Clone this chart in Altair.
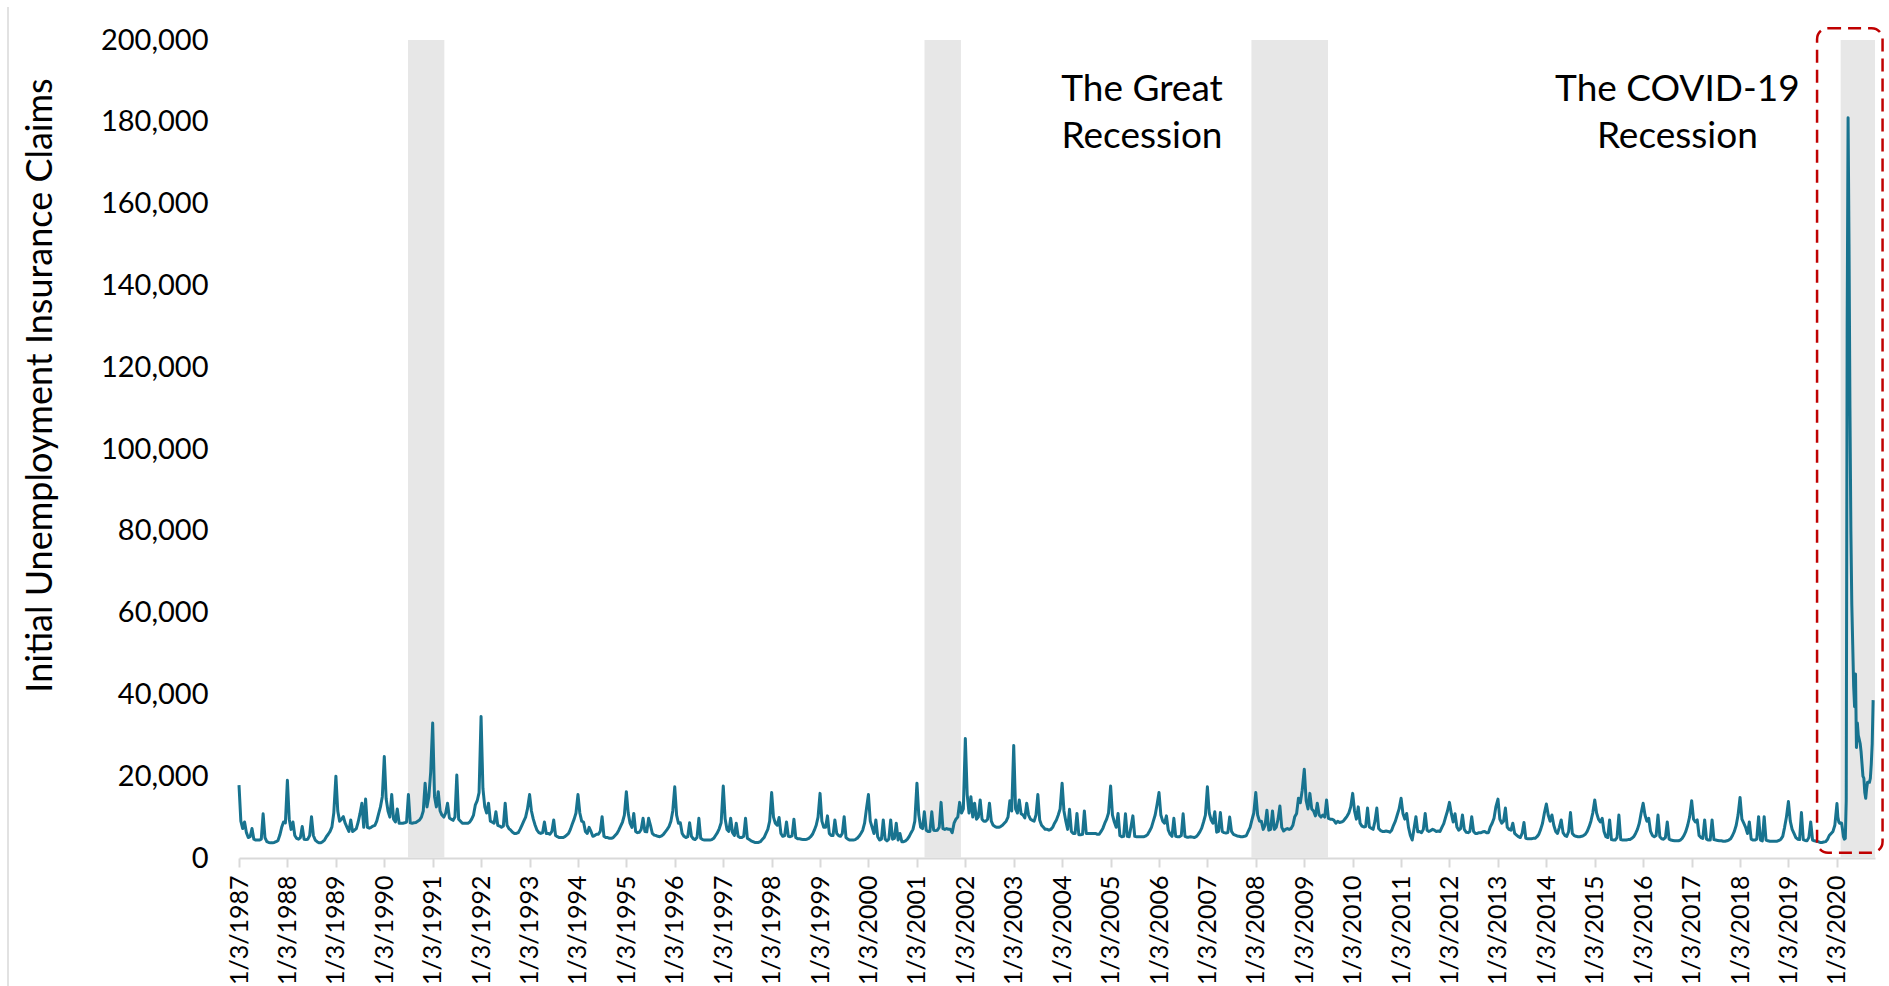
import altair as alt
import pandas as pd

# Initial unemployment insurance claims, read every two weeks from Jan 3 of each year
claims_1987 = [17800, 9000, 7200, 8800, 6200, 5000, 5200, 7200, 4600, 4400, 4400, 4400, 4600, 10800, 5000, 4000, 3800, 3700, 3700, 3800, 4000, 4300, 5600, 7500, 8800, 8600]
claims_1988 = [19000, 9500, 7000, 8800, 5500, 4800, 4600, 5000, 7700, 4600, 4500, 4600, 5500, 10100, 5500, 4400, 4000, 3700, 3700, 4000, 4400, 5200, 5800, 6500, 7600, 11000]
claims_1989 = [20000, 11500, 9000, 9500, 10100, 8500, 7500, 6500, 9300, 6500, 6800, 7200, 8800, 10900, 13400, 7500, 14400, 7500, 7300, 7500, 7800, 8000, 9000, 10800, 12500, 15000]
claims_1990 = [24800, 14500, 11500, 10000, 15500, 9500, 8800, 12000, 8500, 8500, 8500, 8600, 8800, 15500, 8600, 8500, 8600, 8700, 9000, 9300, 10000, 11500, 18300, 12500, 15000, 21000]
claims_1991 = [33000, 15000, 12500, 16200, 11500, 10500, 10000, 11000, 13400, 9800, 9500, 9200, 10000, 20300, 9500, 9000, 8500, 8500, 8500, 8500, 8800, 9500, 10500, 13000, 14000, 16000]
claims_1992 = [34600, 17000, 12500, 11000, 13400, 9000, 8800, 8500, 11300, 8000, 7800, 7500, 7800, 13400, 8000, 7200, 6800, 6300, 6000, 6000, 6200, 7000, 8000, 9000, 10000, 12000]
claims_1993 = [15500, 11500, 9500, 8000, 6800, 6200, 6000, 6200, 8800, 6000, 6000, 5800, 6500, 9300, 5500, 5200, 5000, 5000, 5000, 5200, 5600, 6000, 7000, 8300, 9500, 11000]
claims_1994 = [15500, 11000, 9000, 8800, 6500, 6000, 7500, 6500, 5300, 5500, 5800, 5800, 6500, 10100, 5300, 5000, 5000, 4800, 4800, 5000, 5500, 6000, 6800, 7800, 8800, 10500]
claims_1995 = [16200, 11000, 8500, 7500, 10900, 6500, 6200, 6300, 7000, 9700, 6500, 6400, 9700, 8000, 6000, 5600, 5500, 5300, 5200, 5400, 5800, 6400, 7000, 7700, 9000, 11500]
claims_1996 = [17400, 10500, 8500, 8600, 6000, 5300, 5000, 5200, 8600, 5300, 4700, 4500, 5000, 9700, 4800, 4500, 4400, 4400, 4400, 4400, 4500, 4800, 5500, 6200, 7200, 8600]
claims_1997 = [17600, 9600, 7000, 6500, 9700, 6200, 5500, 8500, 5300, 5000, 5000, 5300, 9700, 4800, 4500, 4200, 4000, 3800, 3800, 3800, 4000, 4500, 5000, 6000, 7000, 9000]
claims_1998 = [16000, 10000, 8500, 8000, 9900, 6000, 5300, 5500, 8800, 5300, 5200, 5400, 9500, 5000, 4700, 4700, 4600, 4500, 4500, 4600, 4800, 5200, 5800, 6800, 8000, 10000]
claims_1999 = [15800, 9000, 7500, 7500, 10300, 6000, 5500, 5500, 9300, 6000, 5500, 5300, 6000, 10100, 5000, 4600, 4400, 4400, 4400, 4500, 4800, 5300, 6000, 6800, 8500, 12000]
claims_2000 = [15500, 9000, 7500, 6000, 9300, 5200, 4400, 4600, 9300, 4600, 4200, 4600, 9300, 4600, 4800, 8500, 4400, 6000, 4000, 4000, 4200, 4600, 5300, 6200, 7000, 9000]
claims_2001 = [18300, 10500, 7500, 7200, 11300, 6800, 6500, 6500, 11300, 6800, 6700, 6800, 7500, 13600, 7200, 7000, 7200, 7000, 7000, 6200, 8500, 9500, 10000, 13600, 11000, 12000]
claims_2002 = [29200, 15500, 11000, 15000, 10000, 13400, 9500, 10000, 14200, 9500, 9000, 9000, 9500, 13400, 9000, 8000, 7700, 7500, 7500, 7700, 8000, 8500, 9000, 10000, 14000, 11500]
claims_2003 = [27500, 12000, 11000, 14200, 10800, 10500, 9800, 13400, 10500, 9500, 9200, 9000, 10500, 15500, 9300, 8000, 7500, 7000, 7000, 6800, 7000, 7500, 8500, 9300, 10500, 12000]
claims_2004 = [18300, 11500, 9000, 7000, 11900, 6500, 6000, 6000, 10900, 5700, 5700, 5800, 11500, 6000, 6000, 6000, 6000, 6000, 6000, 5800, 5800, 6500, 7300, 8500, 9500, 11000]
claims_2005 = [17600, 10500, 8800, 7500, 10900, 5500, 5200, 5300, 10800, 5300, 5200, 7700, 10300, 5300, 5200, 5200, 5200, 5200, 5200, 5400, 5800, 6600, 7500, 9000, 10500, 13000]
claims_2006 = [16000, 10500, 9000, 8500, 10300, 6800, 5800, 5300, 9700, 5300, 5200, 5200, 5500, 10800, 5300, 5100, 5100, 5200, 5100, 5000, 5200, 5700, 6400, 7300, 8800, 10500]
claims_2007 = [17400, 11000, 9300, 8500, 11300, 6300, 6500, 11100, 6500, 6200, 6100, 6200, 10000, 6500, 5800, 5600, 5400, 5300, 5200, 5200, 5300, 5500, 6500, 7500, 9300, 11000]
claims_2008 = [16000, 10500, 9000, 9000, 7000, 8000, 11700, 6800, 7000, 11500, 7000, 7500, 9500, 12700, 7500, 6600, 7000, 7200, 7000, 7200, 8000, 10100, 10900, 14600, 13500, 16500]
claims_2009 = [21700, 14000, 12000, 15800, 12000, 11500, 10300, 13400, 10500, 10000, 10500, 10000, 14200, 9700, 9500, 9500, 9200, 8500, 9000, 8700, 8800, 9000, 9600, 10200, 11000, 12500]
claims_2010 = [15800, 11500, 9500, 12500, 8500, 7800, 7600, 7700, 12200, 7600, 7300, 7000, 9000, 12200, 7200, 6700, 6500, 6500, 6600, 6500, 6300, 6800, 8000, 9000, 10500, 12000]
claims_2011 = [14600, 10900, 9500, 10900, 7500, 5500, 4400, 7200, 10100, 6400, 6500, 6200, 7000, 10900, 6800, 6500, 6700, 7000, 6800, 6500, 6600, 6500, 7500, 8400, 10000, 11500]
claims_2012 = [13600, 10900, 8800, 10800, 7600, 6800, 7200, 10500, 7000, 6300, 6200, 6500, 10100, 6500, 6000, 6000, 6200, 6200, 6400, 6500, 6200, 6200, 7600, 8500, 9700, 12500]
claims_2013 = [14400, 9500, 8500, 9000, 12200, 7500, 7000, 6800, 8500, 6000, 5600, 5200, 5000, 6000, 8700, 4800, 4700, 4700, 4700, 4800, 4800, 5200, 5800, 7000, 8500, 11000]
claims_2014 = [13200, 10500, 9000, 10500, 8000, 6500, 6000, 7500, 9300, 6200, 5500, 5300, 6500, 11100, 6000, 5500, 5300, 5200, 5200, 5300, 5500, 5800, 6500, 7600, 9000, 11000]
claims_2015 = [14200, 11000, 9500, 8800, 9700, 6500, 5200, 5000, 9300, 4500, 4400, 4400, 5000, 10500, 4500, 4400, 4400, 4400, 4500, 4500, 4800, 5200, 6000, 7000, 8500, 11000]
claims_2016 = [13400, 10500, 9000, 9700, 6500, 5500, 5200, 5500, 10500, 5200, 4700, 4600, 5000, 8800, 4600, 4400, 4300, 4200, 4200, 4200, 4400, 4800, 5500, 6500, 8000, 10000]
claims_2017 = [14000, 9500, 8800, 9300, 5500, 5000, 4800, 9300, 4600, 4400, 4400, 9300, 4500, 4400, 4300, 4200, 4200, 4100, 4100, 4200, 4400, 4700, 5500, 6500, 8000, 10500]
claims_2018 = [14800, 9500, 8500, 7500, 6000, 8800, 4600, 4400, 4400, 4600, 10100, 4400, 4200, 10100, 4400, 4200, 4100, 4100, 4100, 4100, 4100, 4300, 4600, 5300, 7500, 10000]
claims_2019 = [13800, 9000, 7000, 6000, 5000, 4600, 4500, 11100, 4500, 4300, 4200, 5000, 8800, 4400, 4200, 4100, 4000, 3800, 3800, 3900, 4000, 4500, 5500, 6000, 6500, 8000]

# 2020 is weekly, week ending Jan 4 through week ending Oct 3
claims_2020 = [13300, 10000, 8800, 8500, 8600, 8500, 7000, 5200, 4600, 4800,
               14000, 130000, 181000, 150000, 110000, 80000, 62000, 52000, 42000, 37000,
               45000, 27000, 33000, 30000, 29000, 28000, 26000, 23000, 20000, 19500,
               16000, 14600, 17000, 18500, 18500, 18500, 19500, 23000, 28000, 38600]

# Recessions shaded in grey
recession_start = ["1990-07-01", "2001-03-01", "2007-12-01", "2020-02-01"]
recession_end = ["1991-04-01", "2001-12-01", "2009-07-01", "2020-10-17"]

# Annotations
note_text = ["The Great\nRecession", "The COVID-19\nRecession"]
note_date = ["2005-08-28", "2016-09-17"]
note_level = [185000, 185000]

# Highlight box around the 2020 surge
box_start = ["2019-08-07"]
box_end = ["2020-12-13"]
box_low = [1300]
box_high = [202900]

y_ticks = list(range(0, 200001, 20000))
tick_years = list(range(1987, 2021))

FONT = "Lato"
LINE_COLOR = "#18738F"

biweekly = {
    1987: claims_1987, 1988: claims_1988, 1989: claims_1989, 1990: claims_1990,
    1991: claims_1991, 1992: claims_1992, 1993: claims_1993, 1994: claims_1994,
    1995: claims_1995, 1996: claims_1996, 1997: claims_1997, 1998: claims_1998,
    1999: claims_1999, 2000: claims_2000, 2001: claims_2001, 2002: claims_2002,
    2003: claims_2003, 2004: claims_2004, 2005: claims_2005, 2006: claims_2006,
    2007: claims_2007, 2008: claims_2008, 2009: claims_2009, 2010: claims_2010,
    2011: claims_2011, 2012: claims_2012, 2013: claims_2013, 2014: claims_2014,
    2015: claims_2015, 2016: claims_2016, 2017: claims_2017, 2018: claims_2018,
    2019: claims_2019,
}

rows = []
for year, values in biweekly.items():
    first = pd.Timestamp(year=year, month=1, day=3)
    for i, v in enumerate(values):
        rows.append({"date": first + pd.Timedelta(days=14 * i), "claims": v})
first_2020 = pd.Timestamp("2020-01-04")
for i, v in enumerate(claims_2020):
    rows.append({"date": first_2020 + pd.Timedelta(days=7 * i), "claims": v})
series = pd.DataFrame(rows)

bands = pd.DataFrame({
    "start": pd.to_datetime(recession_start),
    "end": pd.to_datetime(recession_end),
    "low": 0,
    "high": 200000,
})
notes = pd.DataFrame({"date": pd.to_datetime(note_date), "level": note_level, "text": note_text})
box = pd.DataFrame({
    "start": pd.to_datetime(box_start),
    "end": pd.to_datetime(box_end),
    "low": box_low,
    "high": box_high,
})

x_scale = alt.Scale(domain=[alt.DateTime(year=1987, month=1, date=3),
                            alt.DateTime(year=2020, month=10, date=17)])
y_scale = alt.Scale(domain=[0, 200000], nice=False)

x_axis = alt.Axis(
    values=[alt.DateTime(year=y, month=1, date=3) for y in tick_years],
    format="%-m/%-d/%Y",
    title="",
    labelAngle=270,
    labelAlign="right",
    labelBaseline="middle",
    labelFont=FONT,
    labelFontSize=25,
    labelColor="#000000",
    labelPadding=8,
    labelOverlap=False,
    labelFlush=False,
    labelBound=False,
    tickSize=9,
    tickWidth=2,
    tickColor="#D9D9D9",
    domainColor="#D9D9D9",
    domainWidth=2,
    grid=False,
)
y_axis = alt.Axis(
    values=y_ticks,
    format=",d",
    title="Initial Unemployment Insurance Claims",
    titleFont=FONT,
    titleFontSize=36,
    titleFontWeight="normal",
    titleColor="#000000",
    titleAngle=270,
    titleAlign="center",
    titleBaseline="alphabetic",
    titleX=-188,
    titleY=345,
    labelFont=FONT,
    labelFontSize=29,
    labelColor="#000000",
    labelPadding=31,
    ticks=False,
    tickSize=0,
    domain=False,
    grid=False,
)

shading = alt.Chart(bands).mark_rect(color="#E7E7E7").encode(
    x=alt.X("start:T", scale=x_scale, axis=x_axis),
    x2="end:T",
    y=alt.Y("low:Q", scale=y_scale, axis=y_axis),
    y2="high:Q",
)

line = alt.Chart(series).mark_line(
    color=LINE_COLOR, strokeWidth=3, strokeJoin="round"
).encode(
    x=alt.X("date:T", scale=x_scale, axis=x_axis),
    y=alt.Y("claims:Q", scale=y_scale, axis=y_axis),
)

labels = alt.Chart(notes).mark_text(
    font=FONT, fontSize=37, color="#000000", align="center",
    baseline="alphabetic", lineBreak="\n", lineHeight=47,
).encode(
    x=alt.X("date:T", scale=x_scale, axis=x_axis),
    y=alt.Y("level:Q", scale=y_scale, axis=y_axis),
    text="text:N",
)

highlight = alt.Chart(box).mark_rect(
    fill="transparent", stroke="#C00000", strokeWidth=2.5,
    strokeDash=[13, 7], cornerRadius=11,
).encode(
    x=alt.X("start:T", scale=x_scale, axis=x_axis),
    x2="end:T",
    y=alt.Y("low:Q", scale=y_scale, axis=y_axis),
    y2="high:Q",
)

# faint frame line along the left edge of the figure
edge = alt.Chart(pd.DataFrame({"k": [0]})).mark_rule(
    color="#D9D9D9", strokeWidth=1.5
).encode(x=alt.value(-231), y=alt.value(-33), y2=alt.value(946))

chart = alt.layer(shading, line, labels, highlight, edge).properties(
    width=1636,
    height=818,
    padding={"left": 239, "top": 40, "right": 14, "bottom": 128},
    autosize=alt.AutoSizeParams(type="none"),
    background="#FFFFFF",
).configure_view(strokeWidth=0)

chart.save("out.html", embed_options={"renderer": "svg", "actions": False})
